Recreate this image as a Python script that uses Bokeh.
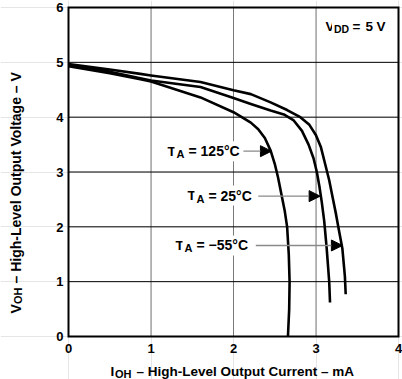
import math
from bokeh.plotting import figure
from bokeh.models import Label, LabelSet, Arrow, NormalHead, Range1d, ColumnDataSource
from bokeh.core.properties import value
from bokeh.embed import file_html
from bokeh.resources import INLINE

# ---- data ----
x_ticks = [0, 1, 2, 3, 4]
y_ticks = [0, 1, 2, 3, 4, 5, 6]

# T_A = -55 degC
i_m55 = [0, 0.5, 0.87, 1.0, 1.6, 2.0, 2.21, 2.45, 2.65, 2.81, 2.92, 3.0, 3.06, 3.11, 3.16, 3.2, 3.24, 3.27, 3.32, 3.35, 3.36]
v_m55 = [4.97, 4.87, 4.79, 4.76, 4.64, 4.49, 4.42, 4.27, 4.13, 4.0, 3.86, 3.67, 3.45, 3.15, 2.85, 2.55, 2.25, 2.0, 1.6, 1.1, 0.77]
# T_A = 25 degC
i_25 = [0, 0.5, 0.87, 1.0, 1.6, 2.0, 2.21, 2.45, 2.61, 2.73, 2.83, 2.91, 2.97, 3.01, 3.04, 3.07, 3.1, 3.13, 3.16, 3.17]
v_25 = [4.95, 4.83, 4.71, 4.67, 4.55, 4.35, 4.24, 4.12, 4.05, 3.94, 3.75, 3.5, 3.25, 3.0, 2.75, 2.45, 2.1, 1.6, 1.0, 0.62]
# T_A = 125 degC
i_125 = [0, 0.5, 0.87, 1.0, 1.6, 2.0, 2.1, 2.21, 2.3, 2.38, 2.45, 2.5, 2.54, 2.58, 2.62, 2.65, 2.67, 2.68, 2.675, 2.66]
v_125 = [4.93, 4.80, 4.69, 4.65, 4.36, 4.09, 4.0, 3.9, 3.78, 3.62, 3.39, 3.15, 2.9, 2.6, 2.3, 2.0, 1.5, 1.0, 0.5, 0.0]

temp_labels = ["125°C", "25°C", "−55°C"]
label_x = [1.176, 1.418, 1.273]
label_y = [3.288, 2.48, 1.57]
arrow_x0 = [2.12, 2.30, 2.27]
arrow_x1 = [2.46, 3.05, 3.32]
arrow_y = [3.38, 2.56, 1.66]

FONT = "Liberation Sans"
LIFT = 5  # Label text sits a little low with an alphabetic baseline; lift it

# ---- layout (pixels of the 402x379 picture) ----
W, H = 402, 379
FL, FR, FT, FB = 68, 398, 7, 336          # plot box edges
sx = (x_ticks[-1] - x_ticks[0]) / (FR - FL)
sy = (y_ticks[-1] - y_ticks[0]) / (FB - FT)


def dx(px):
    return x_ticks[0] + (px - FL) * sx


def dy(py):
    return y_ticks[0] + (FB - py) * sy


p = figure(width=W, height=H, x_range=Range1d(dx(0), dx(W)), y_range=Range1d(dy(H), dy(0)),
           output_backend="svg", toolbar_location=None,
           x_axis_location=None, y_axis_location=None, min_border=0)
p.background_fill_color = "white"
p.border_fill_color = "white"
p.outline_line_color = None

x0, x1 = x_ticks[0], x_ticks[-1]
y0, y1 = y_ticks[0], y_ticks[-1]
inner_x = x_ticks[1:-1]
inner_y = y_ticks[1:-1]

# grid
p.segment(x0=inner_x, y0=[y0] * len(inner_x), x1=inner_x, y1=[y1] * len(inner_x),
          line_color="#7a7a7a", line_width=1)
p.segment(x0=[x0] * len(inner_y), y0=inner_y, x1=[x1] * len(inner_y), y1=inner_y,
          line_color="black", line_width=1)
# box
p.quad(left=x0, right=x1, bottom=y0, top=y1, fill_color=None, line_color="black",
       line_width=2, line_join="miter")

# curves
for xs, ys in ((i_m55, v_m55), (i_25, v_25), (i_125, v_125)):
    p.line(xs, ys, line_color="black", line_width=2.6, line_join="round", line_cap="butt")

# tick labels
xsrc = ColumnDataSource(dict(x=x_ticks, y=[y0] * len(x_ticks), t=[str(v) for v in x_ticks]))
ysrc = ColumnDataSource(dict(x=[x0] * len(y_ticks), y=y_ticks, t=[str(v) for v in y_ticks]))
p.add_layout(LabelSet(x="x", y="y", text="t", source=xsrc, text_align="center",
                      text_baseline="alphabetic", y_offset=-16, text_font=value(FONT),
                      text_font_style="bold", text_font_size="13px", text_color="black"))
p.add_layout(LabelSet(x="x", y="y", text="t", source=ysrc, text_align="right",
                      text_baseline="alphabetic", x_offset=-5, y_offset=-4.7, text_font=value(FONT),
                      text_font_style="bold", text_font_size="13px", text_color="black"))


def lab(text, x, y, xo=0, yo=0, size="13.5px", angle=0.0, bg=None):
    if angle:
        xo -= LIFT
    else:
        yo += LIFT
    kw = dict(x=x, y=y, x_offset=xo, y_offset=yo, text=text, text_font=FONT,
              text_font_style="bold", text_font_size=size, text_color="black",
              text_align="left", text_baseline="alphabetic", angle=angle)
    if bg:
        kw["background_fill_color"] = bg
        kw["padding"] = 2
    return Label(**kw)


for k in range(3):
    p.add_layout(Arrow(end=NormalHead(size=11, fill_color="black", line_color="black"),
                       x_start=arrow_x0[k], y_start=arrow_y[k],
                       x_end=arrow_x1[k], y_end=arrow_y[k],
                       line_color="#8a8a8a", line_width=1.3))
    p.add_layout(lab("T", label_x[k], label_y[k], bg="white"))
    p.add_layout(lab("A", label_x[k], label_y[k], xo=9, yo=-3, size="11px", bg="white"))
    p.add_layout(lab("= " + temp_labels[k], label_x[k], label_y[k], xo=21, size="14px", bg="white"))

# V_DD = 5 V
vx, vy = dx(323), dy(30.7)
p.add_layout(lab("V", vx, vy, bg="white"))
p.add_layout(lab("DD", vx, vy, xo=8.5, yo=-3, size="10.5px", bg="white"))
p.add_layout(lab("=", vx, vy, xo=27, bg="white"))
p.add_layout(lab("5", vx, vy, xo=40, bg="white"))
p.add_layout(lab("V", vx, vy, xo=51, bg="white"))

# x axis title
tx, ty = dx(110), dy(375.5)
p.add_layout(lab("I", tx, ty, size="13.5px"))
p.add_layout(lab("OH", tx, ty, xo=4.5, yo=-2.5, size="11px"))
p.add_layout(lab("– High-Level Output Current – mA", tx, ty, xo=26, size="13.5px"))

# y axis title (rotated)
ang = math.pi / 2
ux, uy = dx(20), dy(313)
p.add_layout(lab("V", ux, uy, size="14px", angle=ang))
p.add_layout(lab("OH", ux, uy, xo=2.5, yo=9.5, size="11px", angle=ang))
p.add_layout(lab("– High-Level Output Voltage – V", ux, uy, yo=30, size="14px", angle=ang))

open("out.html", "w").write(file_html(p, INLINE))
